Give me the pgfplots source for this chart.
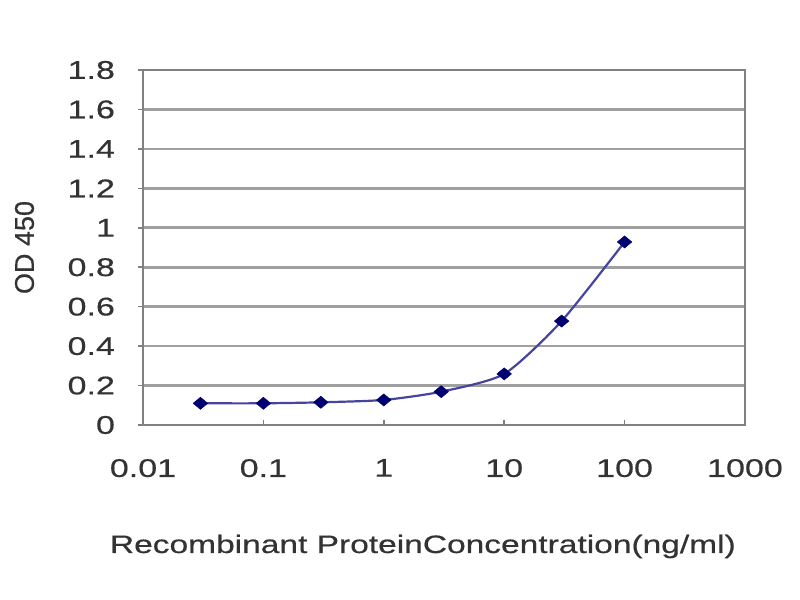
\documentclass[border=0pt]{standalone}
\usepackage{pgfplots}
\pgfplotsset{compat=1.18}
\usepackage{fontspec}
\setmainfont{Liberation Sans}[FakeStretch=1.33, FakeBold=0.5]
\newfontfamily\plainfont{Liberation Sans}[FakeBold=0.5]
\definecolor{gridgray}{HTML}{A0A0A0}
\definecolor{axgray}{HTML}{808080}
\definecolor{linecol}{HTML}{45459F}
\definecolor{markcol}{HTML}{000070}
\begin{document}
\begin{tikzpicture}
\useasboundingbox (-71.5pt,-87.5pt) rectangle (328.5pt,212.5pt);
\begin{axis}[
  at={(0,0)}, anchor=south west,
  scale only axis, width=301pt, height=177.5pt,
  xmode=log, log basis x=10,
  xmin=0.01, xmax=1000, ymin=0, ymax=1.8,
  xtick={0.01,0.1,1,10,100,1000},
  xticklabels={0.01,0.1,1,10,100,1000},
  ytick={0,0.2,0.4,0.6,0.8,1,1.2,1.4,1.6,1.8},
  yticklabels={0,0.2,0.4,0.6,0.8,1,1.2,1.4,1.6,1.8},
  xminorticks=false,
  ymajorgrids,
  grid style={gridgray, line width=1.3pt},
  axis line style={axgray, line width=1pt},
  every tick/.style={axgray, line width=0.8pt},
  major tick length=2.5pt,
  xtick align=inside,
  ytick align=outside,
  xtick pos=bottom, ytick pos=left,
  /pgf/number format/assume math mode=true,
  tick label style={font=\fontsize{12.8}{15}\selectfont, text=black!80},
  xticklabel style={yshift=-13.5pt},
  yticklabel style={xshift=-8pt},
  xlabel={Recombinant ProteinConcentration(ng/ml)},
  xlabel style={at={(axis description cs:0.465,0)}, anchor=base, yshift=-64pt, font=\fontsize{12.6}{15}\selectfont, text=black!80},
  ylabel={OD 450},
  ylabel style={at={(axis description cs:0,0.5)}, anchor=center, yshift=59.25pt, font=\plainfont\fontsize{13.5}{15}\selectfont, text=black!80},
  clip=false,
]
\addplot[linecol, line width=1.1pt, smooth, tension=0.4, mark=diamond*, mark size=3pt,
  mark options={markcol, fill=markcol, line width=0.3pt, xscale=1.6}]
  coordinates {
  (0.03,0.110) (0.1,0.110) (0.3,0.115) (1,0.127) (3,0.169) (10,0.259) (30,0.527) (100,0.928)
  };
\end{axis}
\end{tikzpicture}
\end{document}
